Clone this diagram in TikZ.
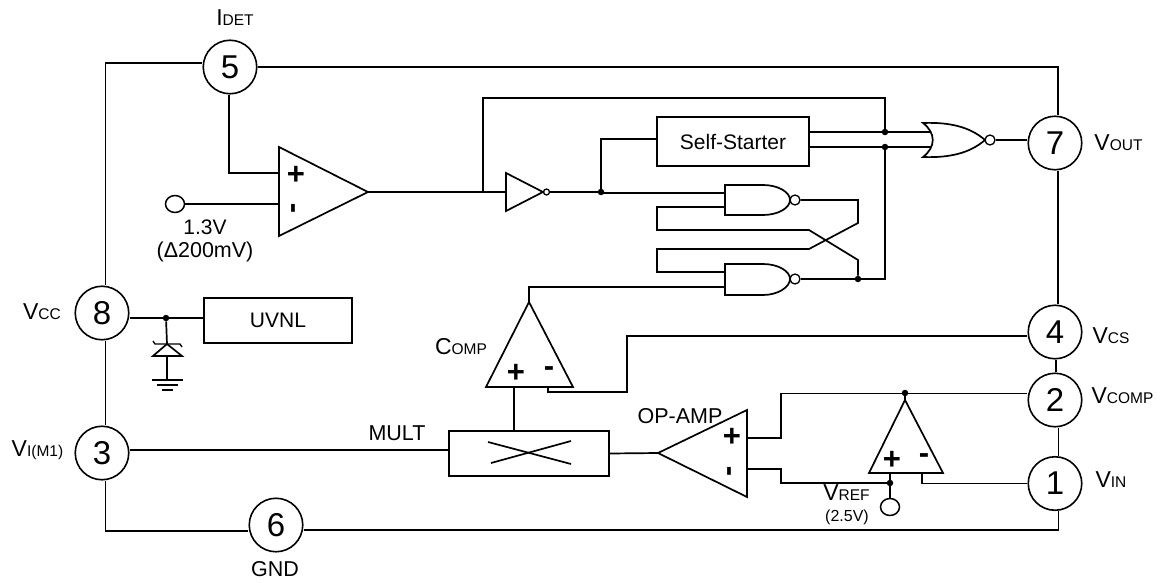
\documentclass[tikz,border=0pt]{standalone}
\usepackage{fontspec}
\setmainfont{Liberation Sans}
\newcommand{\fs}[1]{\fontsize{#1}{#1}\selectfont}
\newcommand{\lab}[2]{{\fs{23}#1}{\fs{15.5}#2}}
\tikzset{
  wire/.style={line width=1.7pt,line join=miter},
  pin/.style={draw,circle,line width=1.6pt,minimum size=53.5pt,inner sep=0pt,font=\fs{33},fill=white},
  blockbox/.style={draw,line width=1.6pt,inner sep=0pt,font=\fs{21}},
  bubble/.style={draw,circle,line width=1.3pt,minimum size=10pt,inner sep=0pt},
  term/.style={draw,ellipse,line width=1.5pt,minimum width=19pt,minimum height=17pt,inner sep=0pt},
  txt/.style={inner sep=0pt,font=\fs{21.5}},
  sign/.style={inner sep=0pt,font=\fs{31}\bfseries},
  dot/.style={fill,circle,minimum size=6.5pt,inner sep=0pt},
}
\usetikzlibrary{shapes.geometric}
\begin{document}
\begin{tikzpicture}[x=1pt,y=-1pt]
\useasboundingbox (0,0) rectangle (1161,583);
% pins
\node[pin] (p5) at (230,67) {5};
\node[pin] (p7) at (1055,143) {7};
\node[pin] (p4) at (1055,332) {4};
\node[pin] (p2) at (1055,400) {2};
\node[pin] (p1) at (1055,483.5) {1};
\node[pin] (p8) at (102,313) {8};
\node[pin] (p3) at (102,453) {3};
\node[pin] (p6) at (276,525) {6};
% boxes
\node[blockbox,minimum width=152pt,minimum height=49pt] (ss) at (733,141.5) {Self-Starter};
\node[blockbox,minimum width=148pt,minimum height=45pt] (uvnl) at (278,320.5) {UVNL};
\node[blockbox,minimum width=160pt,minimum height=45pt] (mult) at (529,453.5) {};
% labels
\node[txt] (lidet) at (235,18) {\lab{I}{DET}};
\node[txt] (lvout) at (1118.5,143) {\lab{V}{OUT}};
\node[txt] (lvcs) at (1111,336) {\lab{V}{CS}};
\node[txt] (lvcomp) at (1122.5,396) {\lab{V}{COMP}};
\node[txt] (lvin) at (1111,480) {\lab{V}{IN}};
\node[txt] (lvcc) at (42,312) {\lab{V}{CC}};
\node[txt] (lvi) at (37.5,450) {\lab{V}{I(M1)}};
\node[txt] (lgnd) at (275,569) {GND};
\node[txt,font=\fs{21}] (l13) at (205,227) {1.3V};
\node[txt] (ldelta) at (205,252) {(Δ200mV)};
\node[txt] (lcomp) at (461,347) {\lab{C}{OMP}};
\node[txt] (lmult) at (397,433) {MULT};
\node[txt] (lop) at (680,416) {OP-AMP};
\node[txt] (lvref) at (846.5,493) {\lab{V}{REF}};
\node[txt,font=\fs{16}] (lref) at (847,517) {(2.5V)};
% outer frame
\coordinate (tl) at (105.5,63);
\coordinate (tr) at (1058,67);
\coordinate (br) at (1058.5,530);
\coordinate (bl) at (105.5,531);
\coordinate (m4) at (1056,345);
\draw[wire] (p5.west |- tl) -- (tl) -- (tl |- p8.north);
\draw[wire] (p5.east) -- (tr) -- (tr |- p7.north);
\draw[wire] (tr |- p7.south) -- (tr |- p4.north);
\draw[wire] (p4.south -| m4) -- (p2.north -| m4);
\draw[wire] (p2.south -| br) -- (p1.north -| br);
\draw[wire] (p1.south -| br) -- (br) -- (p6.east |- br);
\draw[wire] (p6.west |- bl) -- (bl) -- (bl |- p3.south);
\draw[wire] (bl |- p8.south) -- (bl |- p3.north);
% upper comparator
\coordinate (cpa) at (279,147);
\coordinate (cpb) at (279,236);
\coordinate (cpo) at (368,192);
\draw[wire] (cpa) -- (cpo) -- (cpb) -- cycle;
\node[sign] (cpp) at (296,175) {+};
\node[sign,rotate=90] (cpm) at (297,208) {-};
\coordinate (cpin) at (279,173);
\draw[wire] (p5.south -| 229,0) -- (229,173) -- (cpin);
\node[term] (t13) at (175,204) {};
\draw[wire] (t13) -- (279,204);
% inverter, feedback
\coordinate (j1) at (483,192);
\draw[wire] (cpo) -- (506,192);
\draw[wire] (506,173) -- (543,192) -- (506,211) -- cycle;
\node[bubble,minimum size=6pt] (bi) at (546.5,192) {};
\node[dot] (j2) at (601,192) {};
\draw[wire] (bi) -- (j2);
\draw[wire] (j1) -- (483,98) -- (885,98) -- (885,132);
\draw[wire] (j2) -- (601,139) -- (ss.west |- 0,139);
\node[dot] (j3) at (885,132) {};
\node[dot] (j4) at (885,147) {};
% NOR gate
\draw[wire] (923,123) .. controls (950,122) and (970,127) .. (985,140) .. controls (970,153) and (950,158) .. (923,157) .. controls (936,147) and (936,133) .. (923,123) -- cycle;
\node[bubble] (bnor) at (990,140) {};
\draw[wire] (bnor) -- (p7.west |- bnor);
\draw[wire] (ss.east |- j3) -- (j3) -- (931,132);
\draw[wire] (ss.east |- j4) -- (j4) -- (931,147);
% NAND gates
\draw[wire] (725,185) -- (763,185) .. controls (778,185) and (790,192) .. (790,200) .. controls (790,208) and (778,215) .. (763,215) -- (725,215) -- cycle;
\draw[wire] (725,264) -- (763,264) .. controls (778,264) and (790,271) .. (790,279) .. controls (790,287) and (778,295) .. (763,295) -- (725,295) -- cycle;
\node[bubble] (bn1) at (795,200) {};
\node[bubble] (bn2) at (795,279) {};
\node[dot] (j5) at (858,279) {};
\draw[wire] (j2 |- 0,193) -- (725,193);
\draw[wire] (bn1) -- (858,200) -- (858,223) -- (809,249) -- (657,249) -- (657,272) -- (725,272);
\draw[wire] (725,207) -- (657,207) -- (657,230) -- (809,230) -- (858,260) -- (j5);
\draw[wire] (bn2) -- (j5) -- (885,279) -- (j4);
% COMP
\coordinate (ct) at (529,302);
\draw[wire] (ct) -- (573,387) -- (486,387) -- cycle;
\node[sign] (cop) at (516,373) {+};
\node[sign] (com) at (549,372) {-};
\draw[wire] (ct) -- (529,287) -- (725,287);
\draw[wire] (514,387) -- (mult.north -| 514,0);
\draw[wire] (548,387) -- (548,392) -- (627,392) -- (627,336) -- (p4.west |- 0,336);
% multiplier
\coordinate (xa) at (488,442);
\coordinate (xb) at (571,464);
\coordinate (xc) at (491,463);
\coordinate (xd) at (571,441);
\draw[wire] (xa) -- (xb);
\draw[wire] (xc) -- (xd);
\draw[wire] (p3.east |- 0,450) -- (mult.west |- 0,450);
% OP-AMP
\coordinate (ot) at (658,453);
\draw[wire] (ot) -- (747,410) -- (747,497) -- cycle;
\draw[wire] (mult.east) -- (ot);
\node[sign] (oap) at (732,437) {+};
\node[sign,rotate=90] (oam) at (733,471) {-};
\node[dot] (j6) at (905,393) {};
\draw[wire] (747,438) -- (781,438) -- (781,393.5) -- (p2.west |- 0,393.5);
\node[dot] (j7) at (890,483) {};
\draw[wire] (747,469) -- (781,469) -- (781,483) -- (j7);
% error amp
\draw[wire] (j6) -- (905,400);
\draw[wire] (905,400) -- (943,473) -- (869,473) -- cycle;
\node[sign] (eap) at (892,460) {+};
\node[sign] (eam) at (924,459) {-};
\node[term] (tref) at (890,507) {};
\draw[wire] (890,473) -- (tref);
\draw[wire] (922,473) -- (922,483.5) -- (p1.west |- 0,483.5);
% supply branch
\node[dot] (j8) at (166,318) {};
\draw[wire] (p8.east |- j8) -- (j8) -- (uvnl.west |- j8);
\coordinate (zt) at (167,344);
\coordinate (zb) at (167,356);
\draw[wire] (j8) -- (zt);
\draw[wire] (zt) -- (182,356) -- (153,356) -- cycle;
\draw[wire,line width=1.3pt] (153,341) -- (155,344) -- (180,344) -- (182,347);
\coordinate (g) at (167,380);
\draw[wire] (zb) -- (g);
\draw[wire] (152,380) -- (183,380);
\draw[wire] (157,385) -- (178,385);
\draw[wire] (162,390) -- (173,390);
\end{tikzpicture}
\end{document}
